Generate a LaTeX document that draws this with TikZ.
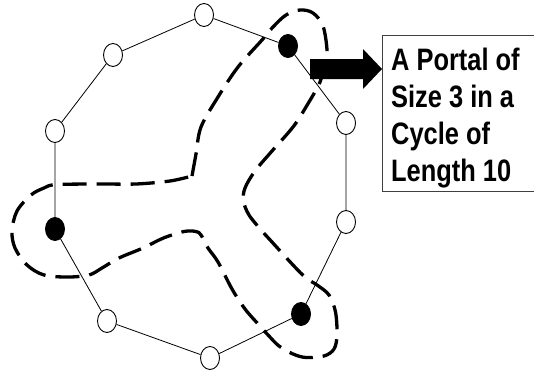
\documentclass[tikz,border=0pt]{standalone}
\usepackage{fontspec}
\newfontfamily\boxfont[FakeStretch=0.82]{Liberation Sans}
\usetikzlibrary{shapes.geometric}
\tikzset{
  vtx/.style={ellipse, draw=black, line width=0.9pt, fill=white, minimum width=19pt, minimum height=23pt, inner sep=0pt},
  portal/.style={vtx, fill=black},
  edge/.style={line width=0.8pt, black},
  region/.style={line width=3.3pt, dash pattern=on 24pt off 10pt, black},
  labelbox/.style={draw=black!75, line width=1.1pt, fill=white, anchor=north west, minimum width=170pt, minimum height=156pt, inner sep=0pt},
  labeltext/.style={anchor=base west, inner sep=0pt, font=\boxfont\bfseries\fontsize{31}{37}\selectfont}
}
\begin{document}
\begin{tikzpicture}[x=1pt,y=-1pt]
\useasboundingbox (0,0) rectangle (534,369);
\clip (0,0) rectangle (534,369);
% cycle vertices
\node[vtx]    (n1)  at (204,15)  {};
\node[portal] (n2)  at (288,46)  {};
\node[vtx]    (n3)  at (346,123) {};
\node[vtx]    (n4)  at (346,222) {};
\node[portal] (n5)  at (301,314) {};
\node[vtx]    (n6)  at (210,358) {};
\node[vtx]    (n7)  at (107,321) {};
\node[portal] (n8)  at (55,229)  {};
\node[vtx]    (n9)  at (55,131)  {};
\node[vtx]    (n10) at (113,55)  {};
% cycle edges
\draw[edge] (n1) -- (n2) -- (n3) -- (n4) -- (n5) -- (n6) -- (n7) -- (n8) -- (n9) -- (n10) -- (n1);
% portal region
\draw[region] plot[smooth, tension=0.55] coordinates {
 (192,176) (196,154) (201,127) (218,97) (238,67) (262,40) (273,27) (286,15)
 (300,10) (313,13) (323,26) (327,50) (325,62) (320,82) (306,107) (293,127)
 (272,151) (255,171) (245,188) (243.5,201) (249,215) (262,231) (272,242)
 (293,265) (306,278) (317,285) (329,295) (335.5,312) (337,335) (334,349)
 (324,356) (306,357.5) (293,354) (279,346) (269,336) (259,325) (245,309)
 (232,289) (218,262) (208,248) (201,235) (196,231.5) (184,231.5) (163.5,238)
 (143,248) (119,258) (102,268) (89,275) (68,277) (44,275) (27,265) (15,248)
 (12,231) (17,211) (31,195) (44,188) (56,184.6) (100,184) (136,184) (170,181) (192,176)};
% label box
\node[labelbox] (label) at (382,35) {};
\foreach \t/\y in {A Portal of/70, Size 3 in a/107, Cycle of/144, Length 10/181}
  \node[labeltext] at (391,\y) {\t};
% block arrow
\coordinate (tip) at (label.west |- 0,69);
\fill[black] (310,59) -- (363,59) -- (363,49) -- (tip) -- (363,89) -- (363,79) -- (310,79) -- cycle;
\end{tikzpicture}
\end{document}
